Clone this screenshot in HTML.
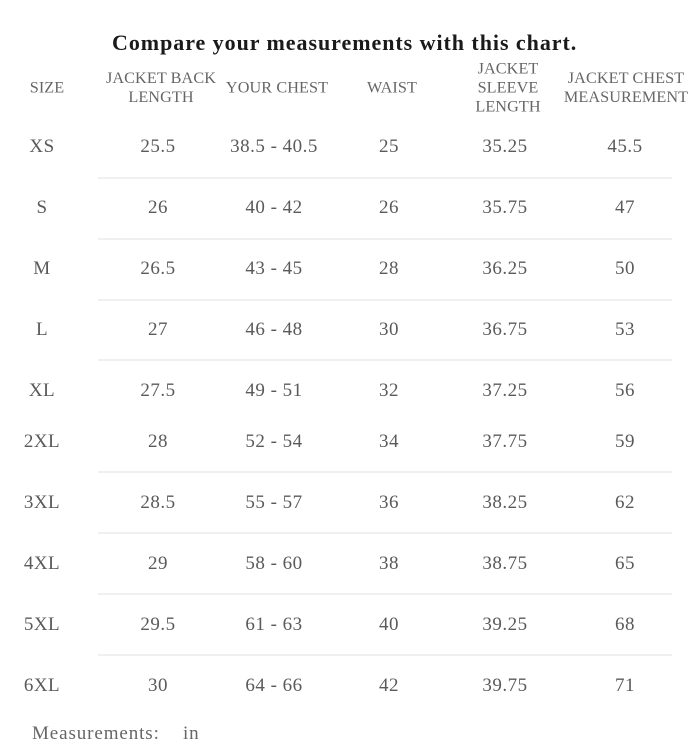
<!DOCTYPE html>
<html><head><meta charset="utf-8"><style>
html,body{margin:0;padding:0;background:#fff;}
body{width:694px;height:749px;position:relative;overflow:hidden;font-family:"Liberation Serif",serif;color:#5a5a5a;}
.t{position:absolute;left:0;top:30px;width:694px;font-size:22px;font-weight:bold;color:#1a1a1a;letter-spacing:0.95px;}
.t span{position:absolute;left:112px;white-space:nowrap;}
.h{position:absolute;font-size:16.2px;line-height:19px;text-align:center;transform:translate(-50%,-50%);white-space:nowrap;color:#666;letter-spacing:0.1px;}
.c{position:absolute;font-size:19px;letter-spacing:0.5px;transform:translate(-50%,-50%);white-space:nowrap;}
.l{position:absolute;left:98px;width:574px;height:2px;background:#f0f0f0;}
.f{position:absolute;font-size:19px;letter-spacing:0.9px;top:723px;color:#666;}
</style></head><body>
<div class="t"><span>Compare your measurements with this chart.</span></div>
<div class="h" style="left:161px;top:88px">JACKET BACK<br>LENGTH</div>
<div class="h" style="left:47px;top:88px">SIZE</div>
<div class="h" style="left:277px;top:88px">YOUR CHEST</div>
<div class="h" style="left:392px;top:88px">WAIST</div>
<div class="h" style="left:508px;top:88px">JACKET<br>SLEEVE<br>LENGTH</div>
<div class="h" style="left:626px;top:88px">JACKET CHEST<br>MEASUREMENT</div>

<div class="l" style="top:177px"></div>
<div class="l" style="top:238px"></div>
<div class="l" style="top:299px"></div>
<div class="l" style="top:359px"></div>
<div class="l" style="top:471px"></div>
<div class="l" style="top:532px"></div>
<div class="l" style="top:593px"></div>
<div class="l" style="top:654px"></div>

<div class="c" style="left:42px;top:147px">XS</div><div class="c" style="left:158px;top:147px">25.5</div><div class="c" style="left:274px;top:147px">38.5 - 40.5</div><div class="c" style="left:389px;top:147px">25</div><div class="c" style="left:505px;top:147px">35.25</div><div class="c" style="left:625px;top:147px">45.5</div>
<div class="c" style="left:42px;top:208px">S</div><div class="c" style="left:158px;top:208px">26</div><div class="c" style="left:274px;top:208px">40 - 42</div><div class="c" style="left:389px;top:208px">26</div><div class="c" style="left:505px;top:208px">35.75</div><div class="c" style="left:625px;top:208px">47</div>
<div class="c" style="left:42px;top:269px">M</div><div class="c" style="left:158px;top:269px">26.5</div><div class="c" style="left:274px;top:269px">43 - 45</div><div class="c" style="left:389px;top:269px">28</div><div class="c" style="left:505px;top:269px">36.25</div><div class="c" style="left:625px;top:269px">50</div>
<div class="c" style="left:42px;top:330px">L</div><div class="c" style="left:158px;top:330px">27</div><div class="c" style="left:274px;top:330px">46 - 48</div><div class="c" style="left:389px;top:330px">30</div><div class="c" style="left:505px;top:330px">36.75</div><div class="c" style="left:625px;top:330px">53</div>
<div class="c" style="left:42px;top:391px">XL</div><div class="c" style="left:158px;top:391px">27.5</div><div class="c" style="left:274px;top:391px">49 - 51</div><div class="c" style="left:389px;top:391px">32</div><div class="c" style="left:505px;top:391px">37.25</div><div class="c" style="left:625px;top:391px">56</div>
<div class="c" style="left:42px;top:442px">2XL</div><div class="c" style="left:158px;top:442px">28</div><div class="c" style="left:274px;top:442px">52 - 54</div><div class="c" style="left:389px;top:442px">34</div><div class="c" style="left:505px;top:442px">37.75</div><div class="c" style="left:625px;top:442px">59</div>
<div class="c" style="left:42px;top:503px">3XL</div><div class="c" style="left:158px;top:503px">28.5</div><div class="c" style="left:274px;top:503px">55 - 57</div><div class="c" style="left:389px;top:503px">36</div><div class="c" style="left:505px;top:503px">38.25</div><div class="c" style="left:625px;top:503px">62</div>
<div class="c" style="left:42px;top:564px">4XL</div><div class="c" style="left:158px;top:564px">29</div><div class="c" style="left:274px;top:564px">58 - 60</div><div class="c" style="left:389px;top:564px">38</div><div class="c" style="left:505px;top:564px">38.75</div><div class="c" style="left:625px;top:564px">65</div>
<div class="c" style="left:42px;top:625px">5XL</div><div class="c" style="left:158px;top:625px">29.5</div><div class="c" style="left:274px;top:625px">61 - 63</div><div class="c" style="left:389px;top:625px">40</div><div class="c" style="left:505px;top:625px">39.25</div><div class="c" style="left:625px;top:625px">68</div>
<div class="c" style="left:42px;top:686px">6XL</div><div class="c" style="left:158px;top:686px">30</div><div class="c" style="left:274px;top:686px">64 - 66</div><div class="c" style="left:389px;top:686px">42</div><div class="c" style="left:505px;top:686px">39.75</div><div class="c" style="left:625px;top:686px">71</div>

<div class="f" style="left:32px">Measurements:</div>
<div class="f" style="left:183px">in</div>
</body></html>
